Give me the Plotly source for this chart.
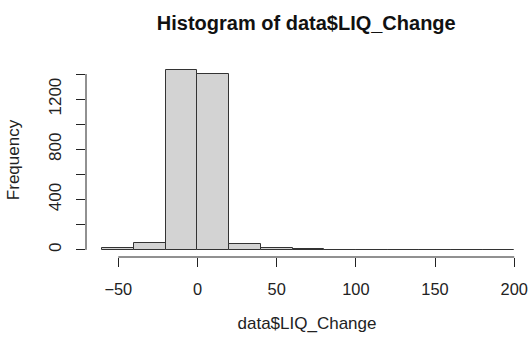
import plotly.graph_objects as go

# Histogram bins of width 20 and their counts
bin_edges = [-60, -40, -20, 0, 20, 40, 60, 80, 100, 120, 140, 160, 180, 200]
counts = [15, 53, 1431, 1399, 50, 18, 6, 1, 1, 1, 1, 1, 1, 1]

x_ticks = [-50, 0, 50, 100, 150, 200]
y_ticks = [0, 200, 400, 600, 800, 1000, 1200, 1400]
y_tick_text = ["0", "", "400", "", "800", "", "1200", ""]

centers = [(a + b) / 2 for a, b in zip(bin_edges[:-1], bin_edges[1:])]
widths = [b - a for a, b in zip(bin_edges[:-1], bin_edges[1:])]

font = "Liberation Sans, Arial, sans-serif"

fig = go.Figure(
    go.Bar(
        x=centers,
        y=counts,
        width=widths,
        marker=dict(color="#D3D3D3", line=dict(color="#333333", width=1)),
    )
)

fig.update_layout(
    width=528,
    height=338,
    margin=dict(l=86, r=0, t=63, b=81),
    paper_bgcolor="white",
    plot_bgcolor="white",
    showlegend=False,
    font=dict(family=font, size=17, color="#222222"),
    title=dict(
        text="<b>Histogram of data$LIQ_Change</b>",
        x=0.58,
        xanchor="center",
        y=0.933,
        yanchor="middle",
        font=dict(family=font, size=20, color="#111111"),
    ),
    bargap=0,
)

fig.update_xaxes(
    range=[-70.4, 208.7],
    tickvals=x_ticks,
    tickfont=dict(size=16.4),
    ticks="outside",
    ticklen=9,
    tickcolor="#222222",
    tickwidth=1,
    ticklabelstandoff=8,
    showgrid=False,
    zeroline=False,
    showline=False,
    title=dict(text="data$LIQ_Change", standoff=20, font=dict(size=17)),
)

fig.update_yaxes(
    range=[-57.2, 1488],
    tickvals=y_ticks,
    ticktext=y_tick_text,
    tickangle=-90,
    ticks="outside",
    ticklen=9,
    tickcolor="#222222",
    tickwidth=1,
    ticklabelstandoff=8,
    showgrid=False,
    zeroline=False,
    showline=False,
    title=dict(text="Frequency", standoff=22, font=dict(size=17)),
)

# R-style axis lines spanning only the first to last tick
fig.add_shape(type="line", xref="x", yref="paper",
              x0=x_ticks[0], x1=x_ticks[-1], y0=0, y1=0,
              line=dict(color="#222222", width=1))
fig.add_shape(type="line", xref="paper", yref="y",
              x0=0, x1=0, y0=y_ticks[0], y1=y_ticks[-1],
              line=dict(color="#222222", width=1))

fig.write_html("out.html")
